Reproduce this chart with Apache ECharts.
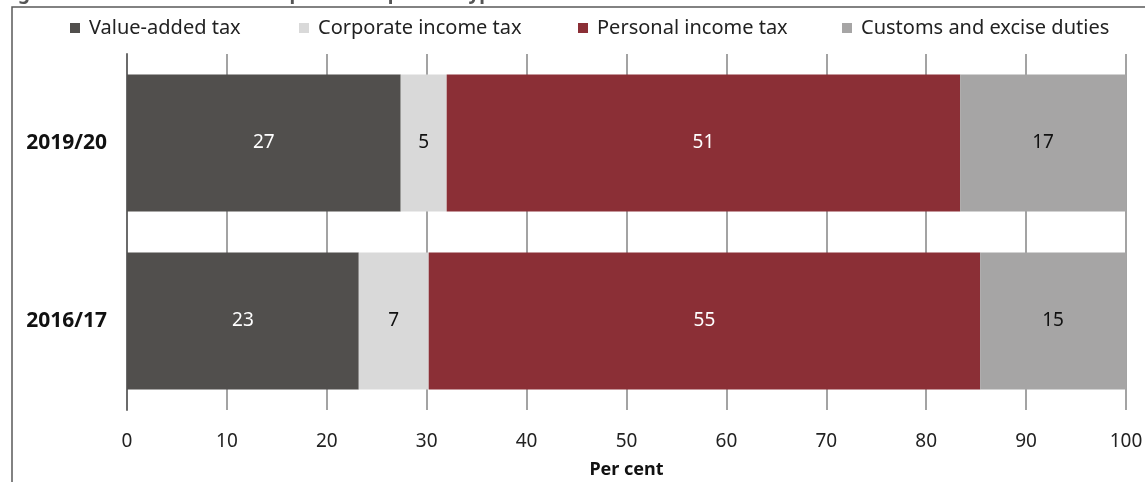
<!DOCTYPE html>
<html>
<head>
<meta charset="utf-8">
<script src="https://cdn.jsdelivr.net/npm/echarts@6/dist/echarts.min.js"></script>
<style>
  html, body { margin: 0; padding: 0; background: #fff; }
  #chart { width: 1145px; height: 482px; }
</style>
</head>
<body>
<div id="chart"></div>
<script>
// years, bottom to top as drawn
const years = ['2016/17', '2019/20'];

// share of total tax expenditure, per cent
const vat = [23.2, 27.4];
const corporate = [7.0, 4.6];
const personal = [55.2, 51.4];
const customs = [14.6, 16.6];

const taxTypes = ['Value-added tax', 'Corporate income tax', 'Personal income tax', 'Customs and excise duties'];
const xTicks = { min: 0, max: 100, interval: 10 };

const font = '"Noto Sans", sans-serif';
const legendLeft = [70, 299, 578, 842];

const chart = echarts.init(document.getElementById('chart'));

const makeSeries = (name, data, color, labelColor) => ({
  name: name,
  type: 'bar',
  stack: 'total',
  data: data,
  barWidth: 137,
  itemStyle: { color: color },
  label: {
    show: true,
    position: 'inside',
    color: labelColor,
    fontFamily: font,
    fontSize: 19,
    formatter: (p) => Math.round(p.value),
  },
});

// one legend per entry, the source spaces them unevenly
const legends = taxTypes.map((name, i) => ({
  left: legendLeft[i],
  top: 18,
  padding: 0,
  itemWidth: 10,
  itemHeight: 10,
  icon: 'rect',
  textStyle: {
    fontFamily: font,
    fontSize: 20,
    color: '#222',
    padding: [0, 0, 0, 4],
  },
  data: [name],
}));

const options = {
  animation: false,
  graphic: [
    {
      type: 'rect',
      shape: { x: 12, y: 7, width: 1200, height: 600 },
      style: { fill: 'none', stroke: '#595959', lineWidth: 1.5 },
      z: -1,
    },
    {
      type: 'text',
      left: 2,
      top: -16,
      style: {
        text: 'Figure 1.1 Share of total tax expenditure per tax type',
        fontFamily: font,
        fontWeight: 'bold',
        fontSize: 19,
        fill: '#555',
      },
    },
  ],
  legend: legends,
  grid: {
    left: 127,
    right: 19,
    top: 54,
    bottom: 72,
    outerBoundsMode: 'none',
  },
  xAxis: {
    type: 'value',
    min: xTicks.min,
    max: xTicks.max,
    interval: xTicks.interval,
    name: 'Per cent',
    nameLocation: 'middle',
    nameGap: 51,
    nameTextStyle: {
      fontFamily: font,
      fontWeight: 'bold',
      fontSize: 18,
      color: '#111',
    },
    axisLine: { show: false },
    axisTick: { show: false },
    axisLabel: {
      margin: 22,
      fontFamily: font,
      fontSize: 19,
      color: '#222',
    },
    splitLine: {
      lineStyle: { color: '#a3a3a3', width: 2 },
    },
  },
  yAxis: {
    type: 'category',
    data: years,
    axisLine: {
      show: true,
      lineStyle: { color: '#6b6b6b', width: 2 },
    },
    axisTick: { show: false },
    axisLabel: {
      margin: 20,
      fontFamily: font,
      fontWeight: 'bold',
      fontSize: 21,
      color: '#111',
    },
  },
  series: [
    makeSeries(taxTypes[0], vat, '#514f4d', '#fff'),
    makeSeries(taxTypes[1], corporate, '#d9d9d9', '#111'),
    makeSeries(taxTypes[2], personal, '#8b2f36', '#fff'),
    makeSeries(taxTypes[3], customs, '#a6a5a5', '#111'),
  ],
};

chart.setOption(options);
</script>
</body>
</html>
